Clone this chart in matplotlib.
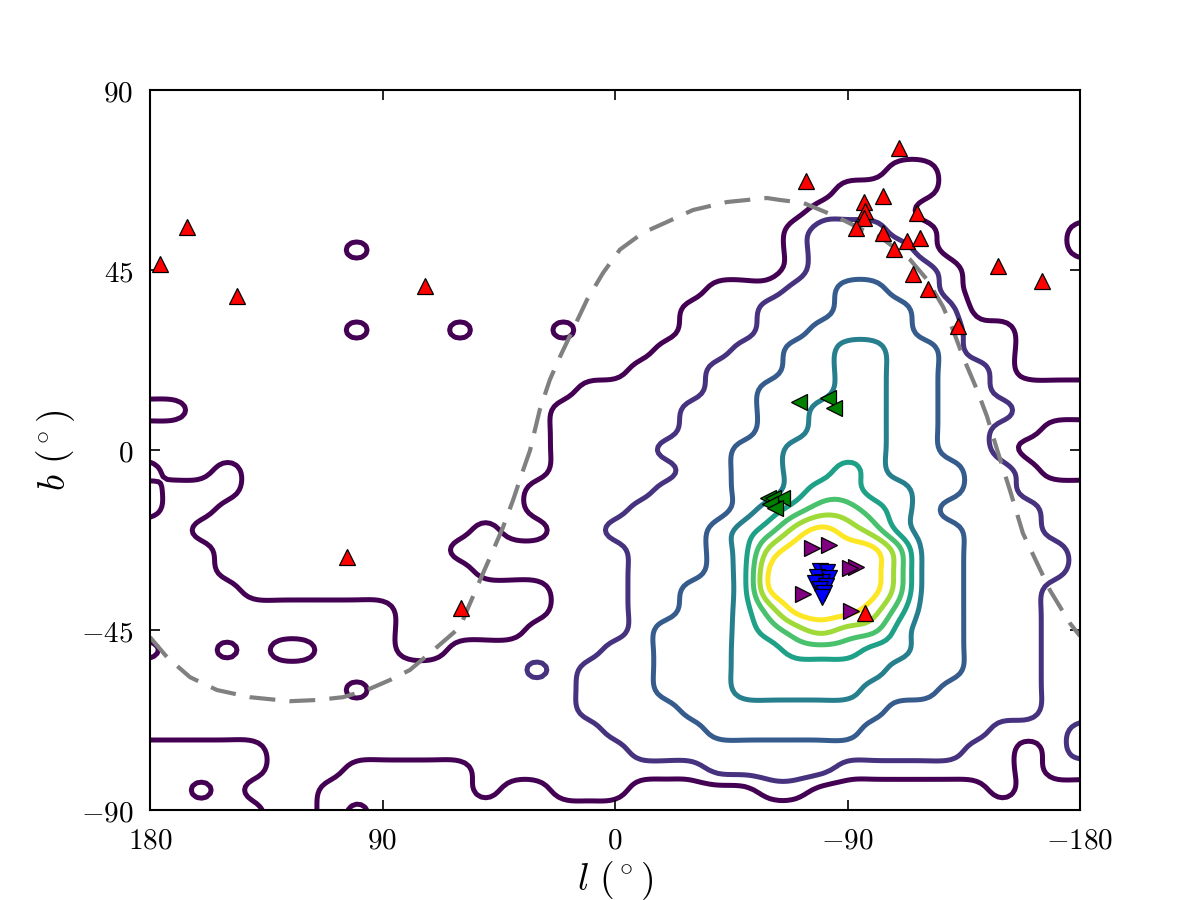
import numpy as np
import matplotlib
matplotlib.use("Agg")
import matplotlib.pyplot as plt

plt.rcParams['mathtext.fontset'] = 'cm'
plt.rcParams['font.family'] = 'serif'
plt.rcParams['font.serif'] = ['DejaVu Serif']

# ---- density table (contour level index), rows b=90..-90 step 5, cols l=180..-180 step 10
lon_nodes = np.arange(180, -181, -10)
lat_nodes = np.arange(90, -91, -5)
density_rows = [
    "0000000000" "0000000000" "0000000000" "0000000",  # 90
    "0000000000" "0000000000" "0000000000" "0000000",  # 85
    "0000000000" "0000000000" "0000000000" "0000000",  # 80
    "0000000000" "0000000000" "0000000000" "0000000",  # 75
    "0000000000" "0000000000" "0000000001" "1000000",  # 70
    "0000000000" "0000000000" "0000000111" "1000000",  # 65
    "0000000000" "0000000000" "0000001111" "0000000",  # 60
    "0000000000" "0000000000" "0000012221" "1000001",  # 55
    "0000000010" "0000000000" "0000012222" "1000001",  # 50
    "0000000000" "0000000000" "0000012222" "2100000",  # 45
    "0000000000" "0000000000" "0011122332" "2100000",  # 40
    "0000000000" "0000000000" "0111222333" "2200000",  # 35
    "0000000010" "0010001000" "0111223333" "2211000",  # 30
    "0000000000" "0000000000" "1112233443" "3211000",  # 25
    "0000000000" "0000000001" "1122233443" "3221000",  # 20
    "0000000000" "0000000111" "1122333443" "3221111",  # 15
    "1100000000" "0000001111" "1222334443" "3222111",  # 10
    "0000000000" "0000001111" "1222334443" "3221100",  # 5
    "0000000000" "0000001111" "2223344443" "3221000",  # 0
    "1001000000" "0000001111" "1223344543" "3322100",  # -5
    "0111000000" "0000011111" "2223345544" "3322111",  # -10
    "0110000000" "0000011112" "2223456654" "3222211",  # -15
    "1100000000" "0001001122" "2234578764" "3322211",  # -20
    "1110000000" "0011111112" "2234788886" "3322221",  # -25
    "1110000000" "0001111112" "2234888886" "3322221",  # -30
    "1111000000" "0000001112" "2334888886" "3322211",  # -35
    "1111111111" "0000001112" "2334688875" "3322211",  # -40
    "1111111111" "0000011112" "3334567664" "3322211",  # -45
    "0110100111" "0011111122" "3334455544" "3322211",  # -50
    "1111111111" "1111121222" "3334444443" "3322211",  # -55
    "1111111101" "1111111222" "3334444433" "3222211",  # -60
    "1111111111" "1111111222" "2333333332" "2222211",  # -65
    "1111111111" "1111111122" "2233333322" "2221112",  # -70
    "0000011111" "1111111112" "2222222222" "2211012",  # -75
    "0000011100" "0001111111" "1122222111" "1111011",  # -80
    "0010111000" "0001001110" "0000110000" "0001000",  # -85
    "0000011010" "0000000000" "0000000000" "0000000",  # -90
]
contour_levels = [0.5, 1.5, 2.5, 3.5, 4.5, 5.5, 6.5, 7.5]

# ---- dashed great circle
circle_l = [180, 173.4, 164.5, 154.1, 141.3, 125.8, 115.4, 105.3, 96.0, 87.1, 79.4,
            70.4, 60.0, 57.3, 52.3, 47.2, 43.4, 39.5, 35.6, 32.9, 29.1, 25.2, 21.3,
            16.3, 10.8, 4.6, -1.9, -10.8, -20.1, -30.2, -43.4, -58.8, -63.9, -72.8,
            -85.9, -96.0, -102.6, -114.2, -120.8, -127.0, -130.8, -134.7, -140.1,
            -144.0, -147.9, -152.9, -157.9, -163.4, -168.4, -176.1, -180]
circle_b = [-46.8, -51.8, -56.8, -60.0, -61.8, -62.8, -62.5, -61.8, -60.0, -57.5, -55.0,
            -50.1, -44.3, -40.1, -32.6, -25.1, -19.4, -12.6, -5.1, -0.1, 10.1, 17.6, 23.3,
            30.1, 37.6, 44.3, 50.1, 54.3, 57.0, 60.0, 62.0, 63.0, 62.5, 61.8,
            58.3, 55.0, 53.3, 47.6, 42.6, 35.8, 30.1, 23.3, 15.1,
            8.4, 0.1, -10.1, -20.8, -28.3, -35.1, -43.3, -46.5]

# ---- objects
red_l = [176.1, 165.7, 146.3, 73.5, 103.7, 59.8, -96.8, -109.9, -73.9, -103.7, -96.4,
         -96.8, -96.4, -93.3, -103.7, -116.9, -113.0, -118.0, -108.0, -115.4, -121.2,
         -132.8, -148.3, -165.3]
red_b = [46.6, 55.8, 38.6, 41.1, -26.8, -39.5, -40.8, 75.5, 67.3, 63.5, 62.0,
         59.8, 58.0, 55.5, 54.3, 59.3, 52.3, 53.0, 50.3, 44.1, 40.3,
         31.1, 46.1, 42.3]
green_l = [-71.2, -82.5, -84.8, -59.2, -61.2, -64.6, -60.0, -61.9]
green_b = [12.1, 13.1, 10.6, -11.9, -12.1, -11.9, -13.4, -14.4]
purple_l = [-76.3, -82.8, -93.3, -91.0, -72.8, -91.4]
purple_b = [-24.6, -23.8, -29.3, -29.6, -36.1, -40.3]
blue_l = [-79.4, -82.1, -78.2, -82.8, -80.1, -77.4, -81.7, -79.4, -80.9, -80.1]
blue_b = [-30.3, -30.6, -31.8, -32.1, -33.1, -33.3, -34.1, -34.8, -35.8, -36.8]

x_ticks = [180, 90, 0, -90, -180]
y_ticks = [-90, -45, 0, 45, 90]


def cubic_resample(n, factor):
    """Catmull-Rom resampling matrix so contour lines come out smooth."""
    t = np.linspace(0, n - 1, (n - 1) * factor + 1)
    W = np.zeros((len(t), n))
    i0 = np.floor(t).astype(int)
    u = t - i0
    rows = np.arange(len(t))
    for k in range(-1, 3):
        idx = np.clip(i0 + k, 0, n - 1)
        d = np.abs(u - k)
        w = np.where(d <= 1, 1.5 * d**3 - 2.5 * d**2 + 1,
                     np.where(d < 2, -0.5 * d**3 + 2.5 * d**2 - 4 * d + 2, 0.0))
        np.add.at(W, (rows, idx), w)
    return t, W


def blur_matrix(m, sigma):
    """Row-normalised Gaussian smoothing operator (edge-clamped)."""
    i = np.arange(m)
    K = np.exp(-0.5 * ((i[:, None] - i[None, :]) / sigma) ** 2)
    return K / K.sum(axis=1, keepdims=True)


FACTOR = 6
Z = np.array([[float(ch) for ch in row] for row in density_rows])
Z = Z[::-1, ::-1]                      # ascending b, ascending l
lon_asc = lon_nodes[::-1].astype(float)
lat_asc = lat_nodes[::-1].astype(float)
tx, Wx = cubic_resample(len(lon_asc), FACTOR)
ty, Wy = cubic_resample(len(lat_asc), FACTOR)
lon_f = np.interp(tx, np.arange(len(lon_asc)), lon_asc)
lat_f = np.interp(ty, np.arange(len(lat_asc)), lat_asc)
Zf = Wy @ Z @ Wx.T
Bx = blur_matrix(len(tx), 2.0)
By = blur_matrix(len(ty), 2.0)
Zf = By @ Zf @ Bx.T

fig = plt.figure(figsize=(8, 6), dpi=150)
ax = fig.add_axes([0.125, 0.1, 0.775, 0.8])

ax.contour(lon_f, lat_f, Zf, levels=contour_levels,
           cmap='viridis', linewidths=2.4, zorder=1)

ax.plot(circle_l, circle_b, color='grey', lw=2, dashes=(6.2, 3.4), zorder=2)

mk = dict(ls='none', ms=8, mec='k', mew=0.6, zorder=3)
ax.plot(red_l, red_b, marker='^', mfc='red', **mk)
ax.plot(green_l, green_b, marker='<', mfc='green', **mk)
ax.plot(purple_l, purple_b, marker='>', mfc='#800080', **mk)
ax.plot(blue_l, blue_b, marker='v', mfc='blue', **mk)

ax.set_xlim(180, -180)
ax.set_ylim(-90, 90)
ax.set_xticks(x_ticks)
ax.set_xticklabels(['$%d$' % v for v in x_ticks])
ax.set_yticks(y_ticks)
ax.set_yticklabels(['$%d$' % v for v in y_ticks])
ax.tick_params(direction='in', top=True, right=True, length=5, width=0.8,
               labelsize=14, pad=8)
for s in ax.spines.values():
    s.set_linewidth(1.0)
ax.set_xlabel(r'$l\ (^\circ)$', fontsize=18, labelpad=2)
ax.set_ylabel(r'$b\ (^\circ)$', fontsize=18, labelpad=2)

fig.savefig('out.png', dpi=150)
